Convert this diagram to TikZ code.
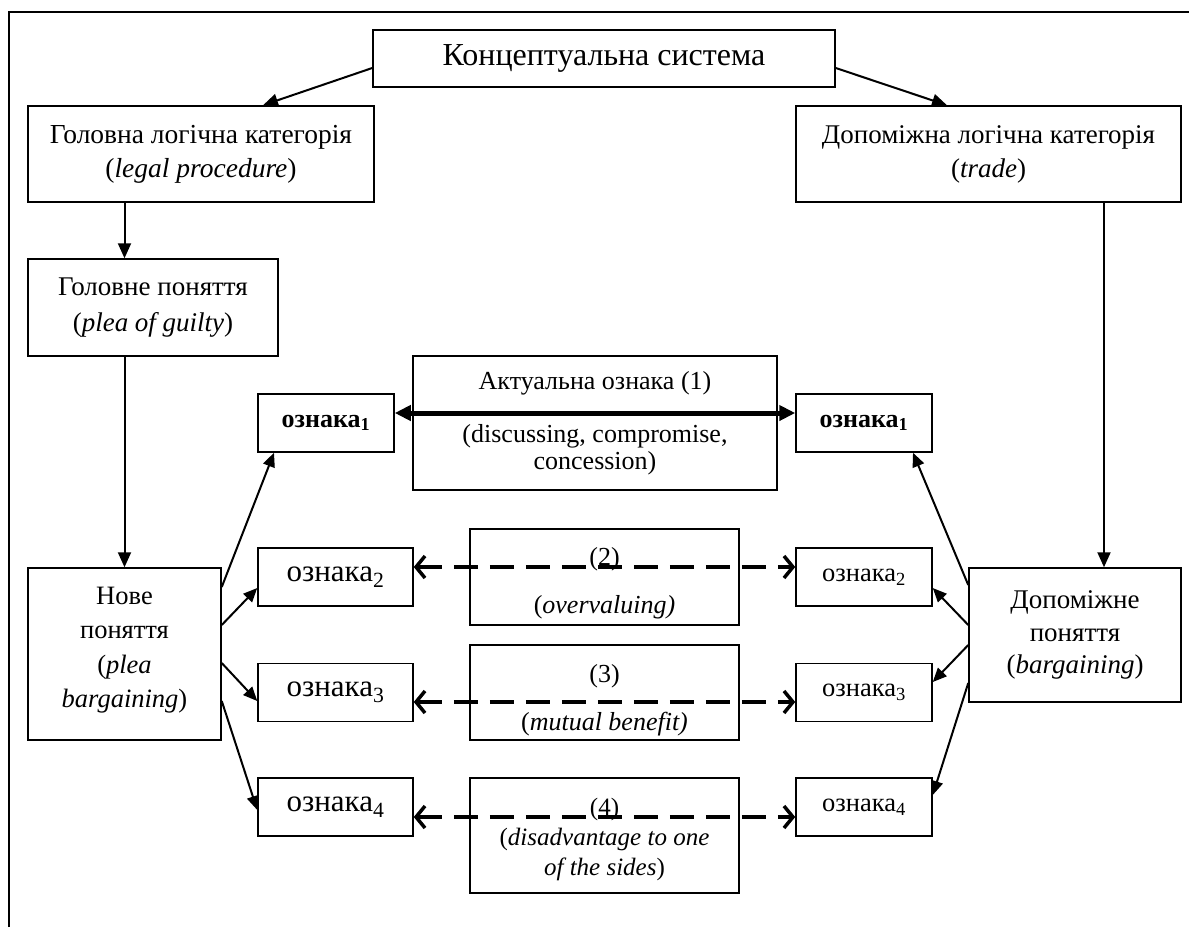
\documentclass[tikz,border=0pt]{standalone}
\usepackage{fontspec}
\setmainfont{Liberation Serif}
\usetikzlibrary{arrows.meta}
\newcommand\setfs[2]{\fontsize{#1}{#2}\selectfont}
\begin{document}
\begin{tikzpicture}[x=1pt,y=-1pt,
  box/.style={draw,line width=1.5pt,inner sep=0pt,align=center,anchor=center},
  txt/.style={inner sep=0pt,align=center,anchor=center},
  flow/.style={line width=2pt,-{Triangle[length=15pt,width=13pt]}},
  thin/.style={line width=2pt,-{Triangle[length=14pt,width=12pt]}},
  dasharrow/.style={line width=4pt,dash pattern=on 24pt off 12pt,
    {Straight Barb[length=9pt,width=22pt,line width=3.5pt]}-{Straight Barb[length=9pt,width=22pt,line width=3.5pt]}},
  thickarrow/.style={line width=5pt,{Triangle[length=16pt,width=15pt]}-{Triangle[length=16pt,width=15pt]}},
  signl/.style={box,minimum width=155pt,minimum height=58pt,font=\setfs{31}{36}},
  signr/.style={box,minimum width=136pt,minimum height=58pt,font=\setfs{26.5}{30}},
  mid/.style={box,minimum width=269pt},
  midtxt/.style={txt,font=\setfs{26}{34}}
]
\useasboundingbox (0,0) rectangle (1189,927);

% outer frame (left and top edges)
\draw[line width=1.5pt] (9,927) -- (9,12) -- (1189,12);

% upper part of the system
\node[box,minimum width=462pt,minimum height=57pt,font=\setfs{32}{38}] (top) at (604,58.5) {Концептуальна система};
\node[box,minimum width=346pt,minimum height=96pt,font=\setfs{27.5}{34}] (lcat) at (201,154)
  {Головна логічна категорія\\(\textit{legal procedure})};
\node[box,minimum width=385pt,minimum height=96pt,font=\setfs{27}{34}] (rcat) at (988.5,154)
  {Допоміжна логічна категорія\\(\textit{trade})};
\node[box,minimum width=250pt,minimum height=97pt,font=\setfs{27}{36}] (head) at (153,307.5)
  {Головне поняття\\(\textit{plea of guilty})};
\node[box,minimum width=193pt,minimum height=172pt] (nove) at (124.5,654) {};
\node[txt,font=\setfs{26.5}{34.5}] (novet) at ([yshift=4pt]nove.center)
  {Нове\\поняття\\(\textit{plea}\\\textit{bargaining})};
\node[box,minimum width=212pt,minimum height=134pt,font=\setfs{27}{32.5}] (dop) at (1075,635)
  {Допоміжне\\поняття\\(\textit{bargaining})};

% shared signs
\node[box,minimum width=364pt,minimum height=134pt,font=\setfs{26}{27}] (act) at (595,423)
  {Актуальна ознака (1)\\[26pt](discussing, compromise,\\concession)};
\node[box,minimum width=136pt,minimum height=58pt,font=\setfs{26}{30}\bfseries] (lo1) at (326,423) {ознака\textsubscript{1}};
\node[box,minimum width=136pt,minimum height=58pt,font=\setfs{26}{30}\bfseries] (ro1) at (864,423) {ознака\textsubscript{1}};

\node[signl] (lo2) at (335.5,577) {ознака\textsubscript{2}};
\node[signl] (lo3) at (335.5,692.5) {ознака\textsubscript{3}};
\node[signl] (lo4) at (335.5,807) {ознака\textsubscript{4}};
\node[signr] (ro2) at (864,577) {ознака\textsubscript{2}};
\node[signr] (ro3) at (864,692.5) {ознака\textsubscript{3}};
\node[signr] (ro4) at (864,807) {ознака\textsubscript{4}};

\node[mid,minimum height=96pt] (b2) at (604.5,577) {};
\node[midtxt] (b2t) at ([yshift=-6pt]b2.center) {(2)\\[14pt](\textit{overvaluing)}};
\node[mid,minimum height=95pt] (b3) at (604.5,692.5) {};
\node[midtxt] (b3t) at ([yshift=-8pt]b3.center) {(3)\\[14pt](\textit{mutual benefit)}};
\node[mid,minimum height=115pt] (b4) at (604.5,835.5) {};
\node[midtxt,font=\setfs{25}{30}] (b4t) at ([yshift=-4pt]b4.center)
  {(4)\\(\textit{disadvantage to one}\\\textit{of the sides})};

% hierarchy arrows
\draw[flow] ([yshift=-9.5pt]top.west) -- ([xshift=62pt]lcat.north);
\draw[flow] ([yshift=-9.5pt]top.east) -- ([xshift=-41.5pt]rcat.north);
\draw[flow] ([xshift=-76.5pt]lcat.south) -- ([xshift=-28.5pt]head.north);
\draw[flow] ([xshift=-28.5pt]head.south) -- (nove.north);
\draw[flow] ([xshift=115.5pt]rcat.south) -- ([xshift=29pt]dop.north);

% signs of the new concept
\draw[thin] ([yshift=67pt]nove.east) -- ([xshift=-52pt]lo1.south);
\draw[thin] ([yshift=29pt]nove.east) -- ([yshift=-11pt]lo2.west);
\draw[thin] ([yshift=-9pt]nove.east) -- ([yshift=-8.5pt]lo3.west);
\draw[thin] ([yshift=-47pt]nove.east) -- ([yshift=-3pt]lo4.west);

% signs of the auxiliary concept
\draw[thin] ([yshift=50pt]dop.west) -- ([xshift=49pt]ro1.south);
\draw[thin] ([yshift=10pt]dop.west) -- ([yshift=-11pt]ro2.east);
\draw[thin] ([yshift=-10pt]dop.west) -- ([yshift=10.5pt]ro3.east);
\draw[thin] ([yshift=-48pt]dop.west) -- ([yshift=12pt]ro4.east);

% links between matching signs
\draw[thickarrow] ([yshift=10pt]lo1.east) -- ([yshift=10pt]ro1.west);
\draw[dasharrow] ([yshift=10pt]lo2.east) -- ([yshift=10pt]ro2.west);
\draw[dasharrow] ([yshift=-9.5pt]lo3.east) -- ([yshift=-9.5pt]ro3.west);
\draw[dasharrow] ([yshift=-10pt]lo4.east) -- ([yshift=-10pt]ro4.west);
\end{tikzpicture}
\end{document}
